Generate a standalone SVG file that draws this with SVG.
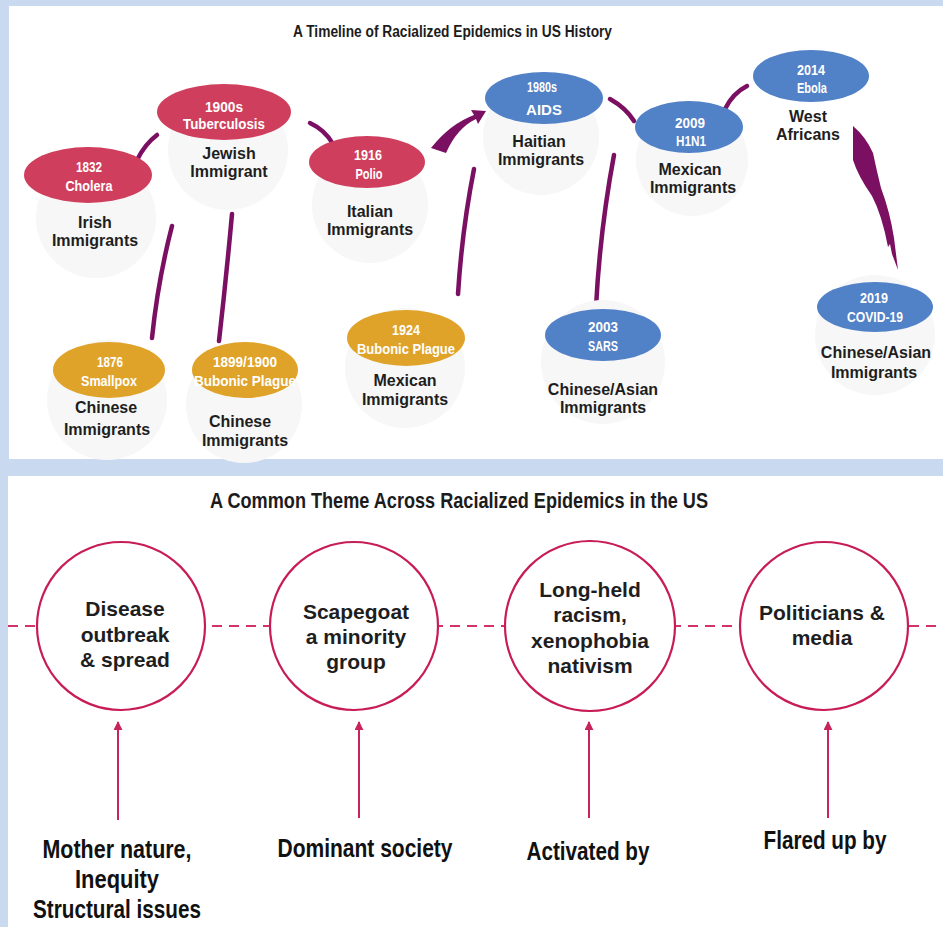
<svg xmlns="http://www.w3.org/2000/svg" width="943" height="927" viewBox="0 0 943 927">
<style>
.t1{font-family:"Liberation Sans",Arial,sans-serif;font-weight:bold;fill:#1c1c1c}
.et{font-family:"Liberation Sans",Arial,sans-serif;font-weight:bold;font-size:15px;fill:#ffffff;text-anchor:middle}
.lb{font-family:"Liberation Sans",Arial,sans-serif;font-weight:bold;font-size:16px;fill:#1e1e1e;text-anchor:middle}
.ct{font-family:"Liberation Sans",Arial,sans-serif;font-weight:bold;font-size:21px;fill:#1e1e1e;text-anchor:middle}
.bl{font-family:"Liberation Sans",Arial,sans-serif;font-weight:bold;font-size:26px;fill:#111111;text-anchor:middle}
.sh{fill:#f7f7f7}
.red{fill:#cf3f5d}
.gold{fill:#dfa32a}
.blue{fill:#5181c6}
.con{fill:none;stroke:#7b0f62;stroke-width:4.5;stroke-linecap:round}
.cf{fill:#7b0f62}
.circ{fill:#ffffff;stroke:#c81d54;stroke-width:2.2}
.up{stroke:#c8245a;stroke-width:2;fill:none}
</style>
<defs>
<marker id="ah" viewBox="0 0 10 10" refX="9" refY="5" markerWidth="4.5" markerHeight="4.5" orient="auto" markerUnits="strokeWidth">
<path d="M0,0 L10,5 L0,10 Z" fill="#c8245a"/>
</marker>
</defs>
<rect x="0" y="0" width="943" height="927" fill="#c8d9f0"/>
<rect x="9" y="6" width="934" height="453" fill="#ffffff"/>
<rect x="8" y="476" width="935" height="451" fill="#ffffff"/>

<text class="t1" x="293" y="37" font-size="16" textLength="319" lengthAdjust="spacingAndGlyphs">A Timeline of Racialized Epidemics in US History</text>

<g id="connectors">
<path class="con" d="M137,160 Q145,144 157,135"/>
<path class="con" d="M310,123 Q325,130 333,144"/>
<path class="cf" d="M431,148 Q450,124 474,115 L471,110 L486,111 L478,124 L476,119 Q457,128 446,153 Z"/>
<path class="con" d="M610,99 Q626,108 634,121"/>
<path class="con" d="M725,109 Q733,93 747,86"/>
<path class="cf" d="M853,126 Q866,137 873,153 Q877,172 881,188 Q890,212 894,238 L898,270 L892,254 L890,244 L888,247 Q882,215 872,196 Q858,176 853,160 Z"/>
<path class="con" d="M172,226 Q158,280 152,338"/>
<path class="con" d="M232,214 Q226,280 219,341"/>
<path class="con" d="M474,169 Q462,230 458,294"/>
<path class="con" d="M614,155 Q600,230 596,307"/>
<line class="up" x1="118" y1="820" x2="118" y2="722" marker-end="url(#ah)"/>
<line class="up" x1="359" y1="818" x2="359" y2="722" marker-end="url(#ah)"/>
<line class="up" x1="589" y1="818" x2="589" y2="722" marker-end="url(#ah)"/>
<line class="up" x1="828" y1="818" x2="828" y2="722" marker-end="url(#ah)"/>
<line x1="8" y1="626" x2="943" y2="626" stroke="#d2336a" stroke-width="2" stroke-dasharray="10 7"/>
</g>

<g id="n1832">
<circle class="sh" cx="96" cy="218" r="60"/>
<ellipse class="red" cx="88" cy="175" rx="64" ry="28"/>
<text class="et" x="89" y="172" textLength="26" lengthAdjust="spacingAndGlyphs">1832</text>
<text class="et" x="89" y="191" textLength="47" lengthAdjust="spacingAndGlyphs">Cholera</text>
<text class="lb" x="95" y="228">Irish</text>
<text class="lb" x="95" y="246">Immigrants</text>
</g>

<g id="n1900s">
<circle class="sh" cx="228" cy="150" r="60"/>
<ellipse class="red" cx="224" cy="112" rx="67" ry="28"/>
<text class="et" x="224" y="112" textLength="38" lengthAdjust="spacingAndGlyphs">1900s</text>
<text class="et" x="224" y="129" textLength="82" lengthAdjust="spacingAndGlyphs">Tuberculosis</text>
<text class="lb" x="229" y="159">Jewish</text>
<text class="lb" x="229" y="177">Immigrant</text>
</g>

<g id="n1916">
<circle class="sh" cx="370" cy="205" r="58"/>
<ellipse class="red" cx="367" cy="162" rx="58" ry="26"/>
<text class="et" x="368" y="160" textLength="28" lengthAdjust="spacingAndGlyphs">1916</text>
<text class="et" x="369" y="179" textLength="27" lengthAdjust="spacingAndGlyphs">Polio</text>
<text class="lb" x="370" y="217">Italian</text>
<text class="lb" x="370" y="235">Immigrants</text>
</g>

<g id="n1980s">
<circle class="sh" cx="541" cy="137" r="58"/>
<ellipse class="blue" cx="544" cy="98" rx="59" ry="26"/>
<text class="et" x="542" y="92" textLength="30" lengthAdjust="spacingAndGlyphs">1980s</text>
<text class="et" x="544" y="115" font-size="16">AIDS</text>
<text class="lb" x="539" y="147">Haitian</text>
<text class="lb" x="541" y="165">Immigrants</text>
</g>

<g id="n2009">
<circle class="sh" cx="692" cy="160" r="56"/>
<ellipse class="blue" cx="689" cy="127" rx="54" ry="26"/>
<text class="et" x="690" y="128" textLength="30" lengthAdjust="spacingAndGlyphs">2009</text>
<text class="et" x="691" y="146" textLength="30" lengthAdjust="spacingAndGlyphs">H1N1</text>
<text class="lb" x="690" y="175">Mexican</text>
<text class="lb" x="693" y="193">Immigrants</text>
</g>

<g id="n2014">
<ellipse class="blue" cx="811" cy="76" rx="58" ry="26"/>
<text class="et" x="811" y="75" textLength="28" lengthAdjust="spacingAndGlyphs">2014</text>
<text class="et" x="812" y="93" textLength="30" lengthAdjust="spacingAndGlyphs">Ebola</text>
<text class="lb" x="808" y="122">West</text>
<text class="lb" x="808" y="140">Africans</text>
</g>

<g id="n1876">
<circle class="sh" cx="107" cy="400" r="60"/>
<ellipse class="gold" cx="109" cy="370" rx="56" ry="28"/>
<text class="et" x="110" y="367" textLength="26" lengthAdjust="spacingAndGlyphs">1876</text>
<text class="et" x="109" y="386" textLength="56" lengthAdjust="spacingAndGlyphs">Smallpox</text>
<text class="lb" x="106" y="413">Chinese</text>
<text class="lb" x="107" y="435">Immigrants</text>
</g>

<g id="n1899">
<circle class="sh" cx="244" cy="405" r="58"/>
<ellipse class="gold" cx="245" cy="370" rx="53" ry="28"/>
<text class="et" x="245" y="367" textLength="64" lengthAdjust="spacingAndGlyphs">1899/1900</text>
<text class="et" x="245" y="386" textLength="102" lengthAdjust="spacingAndGlyphs">Bubonic Plague</text>
<text class="lb" x="240" y="427">Chinese</text>
<text class="lb" x="245" y="446">Immigrants</text>
</g>

<g id="n1924">
<circle class="sh" cx="405" cy="368" r="60"/>
<ellipse class="gold" cx="406" cy="338" rx="59" ry="28"/>
<text class="et" x="406" y="335" textLength="28" lengthAdjust="spacingAndGlyphs">1924</text>
<text class="et" x="406" y="354" textLength="98" lengthAdjust="spacingAndGlyphs">Bubonic Plague</text>
<text class="lb" x="405" y="386">Mexican</text>
<text class="lb" x="405" y="405">Immigrants</text>
</g>

<g id="n2003">
<circle class="sh" cx="603" cy="362" r="62"/>
<ellipse class="blue" cx="603" cy="335" rx="58" ry="26"/>
<text class="et" x="603" y="332" textLength="30" lengthAdjust="spacingAndGlyphs">2003</text>
<text class="et" x="603" y="351" textLength="30" lengthAdjust="spacingAndGlyphs">SARS</text>
<text class="lb" x="603" y="395">Chinese/Asian</text>
<text class="lb" x="603" y="413">Immigrants</text>
</g>

<g id="n2019">
<circle class="sh" cx="875" cy="335" r="60"/>
<ellipse class="blue" cx="875" cy="307" rx="58" ry="25"/>
<text class="et" x="874" y="303" textLength="28" lengthAdjust="spacingAndGlyphs">2019</text>
<text class="et" x="875" y="322" textLength="56" lengthAdjust="spacingAndGlyphs">COVID-19</text>
<text class="lb" x="876" y="358">Chinese/Asian</text>
<text class="lb" x="874" y="378">Immigrants</text>
</g>

<text class="t1" x="210" y="508" font-size="22" textLength="498" lengthAdjust="spacingAndGlyphs">A Common Theme Across Racialized Epidemics in the US</text>

<g id="c1">
<circle class="circ" cx="121" cy="626" r="84"/>
<text class="ct" x="125" y="616">Disease</text>
<text class="ct" x="125" y="642">outbreak</text>
<text class="ct" x="125" y="667">&amp; spread</text>
</g>
<g id="c2">
<circle class="circ" cx="354" cy="626" r="84"/>
<text class="ct" x="356" y="619">Scapegoat</text>
<text class="ct" x="356" y="644">a minority</text>
<text class="ct" x="356" y="669">group</text>
</g>
<g id="c3">
<circle class="circ" cx="590" cy="626" r="85"/>
<text class="ct" x="590" y="597">Long-held</text>
<text class="ct" x="590" y="622">racism,</text>
<text class="ct" x="590" y="648">xenophobia</text>
<text class="ct" x="590" y="673">nativism</text>
</g>
<g id="c4">
<circle class="circ" cx="824" cy="626" r="84"/>
<text class="ct" x="822" y="620">Politicians &amp;</text>
<text class="ct" x="822" y="645">media</text>
</g>

<g id="l1">
<text class="bl" x="117" y="858" textLength="149" lengthAdjust="spacingAndGlyphs">Mother nature,</text>
<text class="bl" x="117" y="888" textLength="84" lengthAdjust="spacingAndGlyphs">Inequity</text>
<text class="bl" x="117" y="918" textLength="168" lengthAdjust="spacingAndGlyphs">Structural issues</text>
</g>
<g id="l2">
<text class="bl" x="365" y="857" textLength="175" lengthAdjust="spacingAndGlyphs">Dominant society</text>
</g>
<g id="l3">
<text class="bl" x="588" y="860" textLength="123" lengthAdjust="spacingAndGlyphs">Activated by</text>
</g>
<g id="l4">
<text class="bl" x="825" y="849" textLength="123" lengthAdjust="spacingAndGlyphs">Flared up by</text>
</g>
</svg>
